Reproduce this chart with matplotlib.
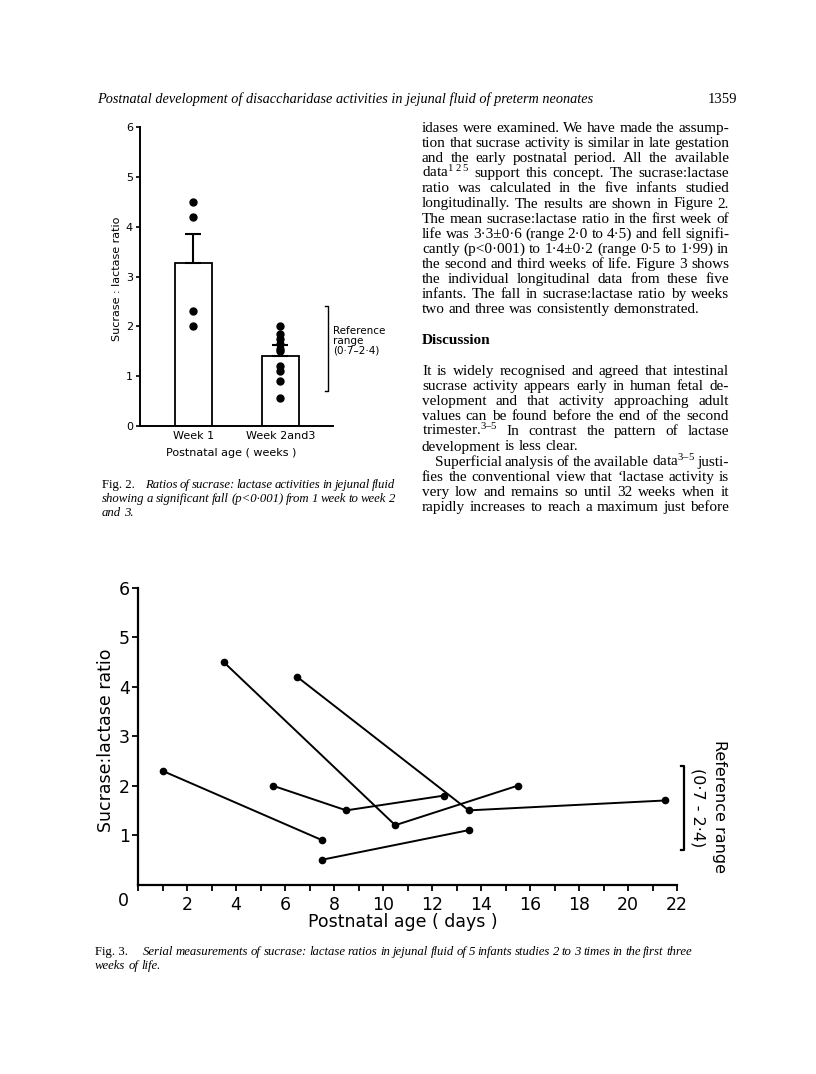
import matplotlib
matplotlib.use("Agg")
import matplotlib.pyplot as plt
from matplotlib.ticker import MultipleLocator

plt.rcParams['mathtext.fontset'] = 'custom'
plt.rcParams['mathtext.rm'] = 'Liberation Serif'
plt.rcParams['mathtext.it'] = 'Liberation Serif:italic'

# ---- Fig. 2 data (sucrase:lactase ratio by week) ----
groups = ["Week 1", "Week 2and3"]
group_means = [3.27, 1.4]
group_sem = [0.58, 0.23]
week1_points = [4.5, 4.2, 2.3, 2.0]
week23_points = [2.0, 1.85, 1.75, 1.65, 1.55, 1.5, 1.2, 1.1, 0.9, 0.55]
ref_range = [0.7, 2.4]

# ---- Fig. 3 data (serial measurements, 5 infants) ----
infant_days = [
    [1, 7.5],
    [3.5, 10.5, 15.5],
    [6.5, 13.5, 21.5],
    [5.5, 8.5, 12.5],
    [7.5, 13.5],
]
infant_ratio = [
    [2.3, 0.9],
    [4.5, 1.2, 2.0],
    [4.2, 1.5, 1.7],
    [2.0, 1.5, 1.8],
    [0.5, 1.1],
]

W, H = 816, 1074
fig = plt.figure(figsize=(W / 100, H / 100), dpi=100)
fig.patch.set_facecolor("white")

# page layer in pixel coords for the printed text
page = fig.add_axes([0, 0, 1, 1])
page.set_xlim(0, W)
page.set_ylim(H, 0)
page.axis("off")

serif = "Liberation Serif"
r = fig.canvas.get_renderer()


def put_lines(lines, x0, x1, y0, dy, size, style="normal", justify_last=False, indent=0):
    for i, line in enumerate(lines):
        words = line.split()
        y = y0 + i * dy
        ts = [page.text(0, y, w, fontsize=size, family=serif, style=style, va="baseline") for w in words]
        ws = [t.get_window_extent(r).width for t in ts]
        ind = indent if i == 0 else 0
        last = (i == len(lines) - 1)
        if len(words) > 1 and (not last or justify_last):
            gap = max((x1 - x0 - ind - sum(ws)) / (len(words) - 1), 1.5)
        else:
            gap = size * 0.25 * 100 / 72
        x = x0 + ind
        for t, w in zip(ts, ws):
            t.set_x(x)
            x += w + gap


# header
page.text(97, 103, "Postnatal development of disaccharidase activities in jejunal fluid of preterm neonates",
          family=serif, style="italic", fontsize=10.3, va="baseline")
page.text(737, 103, "1359", family=serif, fontsize=10.5, va="baseline", ha="right")

# right column text
para1 = [
    "idases were examined. We have made the assump-",
    "tion that sucrase activity is similar in late gestation",
    "and the early postnatal period. All the available",
    "data$^{1\\;2\\;5}$ support this concept. The sucrase:lactase",
    "ratio was calculated in the five infants studied",
    "longitudinally. The results are shown in Figure 2.",
    "The mean sucrase:lactase ratio in the first week of",
    "life was 3·3±0·6 (range 2·0 to 4·5) and fell signifi-",
    "cantly (p<0·001) to 1·4±0·2 (range 0·5 to 1·99) in",
    "the second and third weeks of life. Figure 3 shows",
    "the individual longitudinal data from these five",
    "infants. The fall in sucrase:lactase ratio by weeks",
    "two and three was consistently demonstrated.",
]
para2 = [
    "It is widely recognised and agreed that intestinal",
    "sucrase activity appears early in human fetal de-",
    "velopment and that activity approaching adult",
    "values can be found before the end of the second",
    "trimester.$^{3\u20135}$ In contrast the pattern of lactase",
    "development is less clear.",
]
para3 = [
    "Superficial analysis of the available data$^{3\u20135}$ justi-",
    "fies the conventional view that \u2018lactase activity is",
    "very low and remains so until 32 weeks when it",
    "rapidly increases to reach a maximum just before",
]
body = 11
put_lines(para1, 422, 729, 132, 15.1, body)
page.text(422, 344, "Discussion", family=serif, fontsize=body, weight="bold", va="baseline")
put_lines(para2, 422, 729, 375, 15.1, body)
put_lines(para3, 422, 729, 375 + 6 * 15.1, 15.1, body, justify_last=True, indent=13)

# Fig. 2 caption
cap = 9.2
page.text(102, 488, "Fig. 2.", family=serif, fontsize=cap, va="baseline")
put_lines(["Ratios of sucrase: lactase activities in jejunal fluid"], 145, 395, 488, 14, cap,
          style="italic", justify_last=True)
put_lines(["showing a significant fall (p<0·001) from 1 week to week 2", "and 3."], 102, 395, 502, 14,
          cap, style="italic")

# Fig. 3 caption
page.text(95, 955, "Fig. 3.", family=serif, fontsize=cap, va="baseline")
put_lines(["Serial measurements of sucrase: lactase ratios in jejunal fluid of 5 infants studies 2 to 3 times in the first three"],
          143, 692, 955, 14, cap, style="italic", justify_last=True)
put_lines(["weeks of life."], 95, 692, 969, 14, cap, style="italic")

# ---------------- Fig. 2 chart ----------------
ax = fig.add_axes([140 / W, 1 - 425.7 / H, 193 / W, 298.2 / H])
xpos = [0, 1]
ax.bar(xpos, group_means, width=0.42, color="white", edgecolor="black", linewidth=1.3, zorder=1)
ax.errorbar(xpos, group_means, yerr=[[0, 0], group_sem], fmt="none", ecolor="black",
            elinewidth=1.5, capsize=6, capthick=1.5, zorder=2)
ax.plot([0] * len(week1_points), week1_points, "o", color="black", ms=5, zorder=3)
ax.plot([1] * len(week23_points), week23_points, "o", color="black", ms=5, zorder=3)
bx = 1.55
ax.plot([bx - 0.04, bx, bx, bx - 0.04], [ref_range[1], ref_range[1], ref_range[0], ref_range[0]],
        color="black", lw=1.0, clip_on=False)
ax.text(bx + 0.06, 2.0, "Reference\nrange\n(0·7\u20132·4)", fontsize=7.5, va="top", ha="left",
        linespacing=0.95)
ax.set_xlim(-0.613, 1.606)
ax.set_ylim(0, 6)
ax.set_yticks(range(0, 7))
ax.set_xticks(xpos)
ax.set_xticklabels(groups)
ax.tick_params(axis="x", length=0, pad=4, labelsize=8)
ax.tick_params(axis="y", length=3, width=1.2, pad=2, labelsize=8)
for s in ["top", "right"]:
    ax.spines[s].set_visible(False)
for s in ["left", "bottom"]:
    ax.spines[s].set_linewidth(1.4)
ax.set_xlabel("Postnatal age ( weeks )", fontsize=8, va="center")
ax.xaxis.set_label_coords(0.47, -0.092)
ax.set_ylabel("Sucrase : lactase ratio", fontsize=8, va="center")
ax.yaxis.set_label_coords(-0.121, 0.492)

# ---------------- Fig. 3 chart ----------------
ax2 = fig.add_axes([138 / W, 1 - 884.5 / H, 539 / W, 296.5 / H])
for d, v in zip(infant_days, infant_ratio):
    ax2.plot(d, v, "-o", color="black", lw=1.4, ms=4.5)
ax2.set_xlim(0, 22)
ax2.set_ylim(0, 6)
ax2.set_xticks(range(2, 23, 2))
ax2.xaxis.set_minor_locator(MultipleLocator(1))
ax2.set_yticks(range(1, 7))
ax2.tick_params(axis="x", which="both", length=4, width=1.3, pad=4, labelsize=12.5)
ax2.tick_params(axis="y", length=4, width=1.3, pad=2, labelsize=12.5)
for s in ["top", "right"]:
    ax2.spines[s].set_visible(False)
for s in ["left", "bottom"]:
    ax2.spines[s].set_linewidth(1.6)
ax2.set_xlabel("Postnatal age ( days )", fontsize=12.5, va="center")
ax2.xaxis.set_label_coords(0.4917, -0.1255)
ax2.set_ylabel("Sucrase:lactase ratio", fontsize=12.5, va="center")
ax2.yaxis.set_label_coords(-0.0594, 0.487)
page.text(123.3, 901, "0", fontsize=12.5, ha="center", va="center")

bx2 = 22.3
ax2.plot([bx2 - 0.15, bx2, bx2, bx2 - 0.15], [ref_range[1], ref_range[1], ref_range[0], ref_range[0]],
         color="black", lw=1.6, clip_on=False)
page.text(698, 808, "(0·7 - 2·4)", fontsize=11.5, rotation=270, ha="center", va="center")
page.text(720, 807, "Reference range", fontsize=11.5, rotation=270, ha="center", va="center")

fig.savefig("out.png", dpi=100, facecolor="white")
